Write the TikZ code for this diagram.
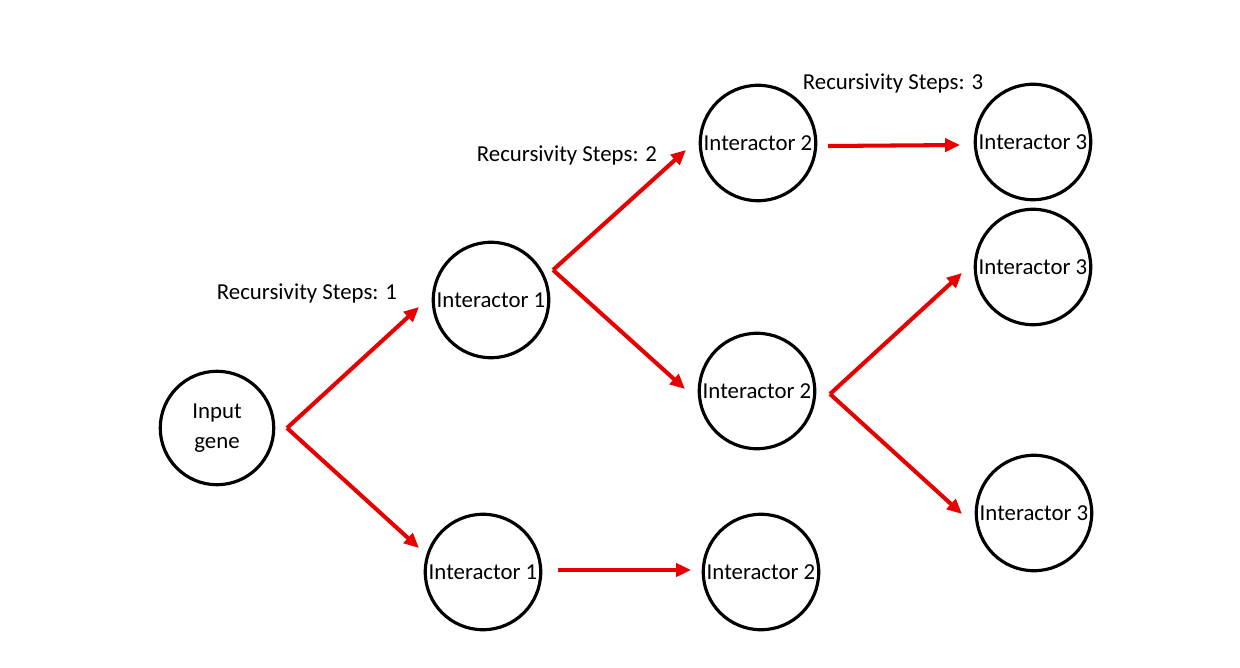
\documentclass[tikz,border=0pt]{standalone}
\usepackage{fontspec}
\setmainfont{Carlito}
\usetikzlibrary{arrows.meta}
\definecolor{arrred}{RGB}{230,0,0}
\tikzset{
  gene/.style={circle, draw=black, line width=1.8pt, minimum size=2.31cm, inner sep=0pt,
    font=\fontsize{13}{17}\selectfont, align=center, text=black},
  arr/.style={draw=arrred, line width=2.3pt, -{Triangle[length=8.5pt,width=7.5pt]}},
  steplabel/.style={font=\fontsize{13}{15}\selectfont, text=black, inner sep=0pt}
}
\begin{document}
\begin{tikzpicture}[x=0.02cm,y=-0.02cm]
\useasboundingbox[fill=white] (0,0) rectangle (1240,668);
% nodes
\node[gene, minimum size=2.27cm] (ig) at (217,428) {Input\\gene};
\node[gene] (i1a) at (491,300) {Interactor 1};
\node[gene] (i1b) at (483,572) {Interactor 1};
\node[gene] (i2a) at (758,143) {Interactor 2};
\node[gene] (i2b) at (757,391) {Interactor 2};
\node[gene] (i2c) at (761,572) {Interactor 2};
\node[gene] (i3a) at (1033,142) {Interactor 3};
\node[gene] (i3b) at (1033,267) {Interactor 3};
\node[gene] (i3c) at (1034,513) {Interactor 3};
% labels
\node[steplabel] (s1) at (307,293) {Recursivity Steps: 1};
\node[steplabel] (s2) at (567,155) {Recursivity Steps: 2};
\node[steplabel] (s3) at (893,83) {Recursivity Steps: 3};
% fork points and tips
\coordinate (f1) at (287,428);
\coordinate (t1a) at (419,307);
\coordinate (t1b) at (419,548);
\coordinate (f2) at (553,270);
\coordinate (t2a) at (686,150);
\coordinate (t2b) at (685,389);
\coordinate (f3) at (830,394);
\coordinate (t3a) at (962,273);
\coordinate (t3c) at (962,514);
\coordinate (h1s) at (828,146);
\coordinate (h1e) at (960,145);
\coordinate (h2s) at (558,570);
\coordinate (h2e) at (691,570);
% connectors
\draw[arr] (f1) -- (t1a);
\draw[arr] (f1) -- (t1b);
\draw[arr] (f2) -- (t2a);
\draw[arr] (f2) -- (t2b);
\draw[arr] (f3) -- (t3a);
\draw[arr] (f3) -- (t3c);
\draw[arr] (h1s) -- (h1e);
\draw[arr] (h2s) -- (h2e);
\end{tikzpicture}
\end{document}
